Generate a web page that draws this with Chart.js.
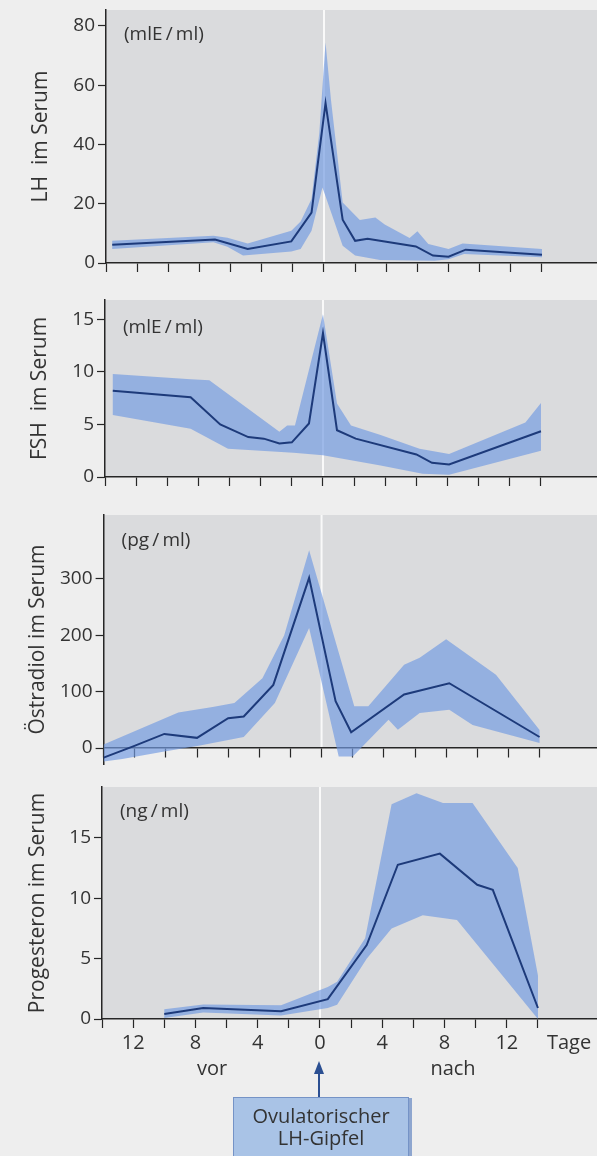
<!DOCTYPE html>
<html>
<head>
<meta charset="utf-8">
<script src="https://cdn.jsdelivr.net/npm/chart.js@4.4.1/dist/chart.umd.min.js"></script>
<style>
  body { margin: 0; width: 597px; height: 1156px; background: #eeeeee; position: relative; overflow: hidden;
         font-family: "Open Sans", sans-serif; color: #333333; }
  canvas { position: absolute; left: 0; }
  .note { position: absolute; font-size: 20px; transform: translate(-50%, -50%); white-space: nowrap; }
  #shaft { position: absolute; left: 318px; top: 1072px; width: 2px; height: 26px; background: #2b4f92; }
  #head { position: absolute; left: 314px; top: 1061px; width: 0; height: 0;
          border-left: 5px solid transparent; border-right: 5px solid transparent; border-bottom: 13px solid #2b4f92; }
  #box { position: absolute; left: 233px; top: 1097px; width: 176px; height: 70px; box-sizing: border-box;
         background: #a9c3e6; border: 1px solid #7593c6; box-shadow: 3px 1px 0 #8ea6cf;
         text-align: center; font-size: 20px; line-height: 22px; padding-top: 7px; color: #333333; }
</style>
</head>
<body>
<canvas id="lh" width="597" height="303" style="top:-10px"></canvas>
<canvas id="fsh" width="597" height="227" style="top:280px"></canvas>
<canvas id="e2" width="597" height="289" style="top:495px"></canvas>
<canvas id="prog" width="597" height="297" style="top:767px"></canvas>
<div class="note" style="left:212px;top:1067px">vor</div>
<div class="note" style="left:453px;top:1067px">nach</div>
<div id="shaft"></div><div id="head"></div>
<div id="box">Ovulatorischer<br>LH-Gipfel</div>
<script>
// Tage relativ zum LH-Gipfel
const xTicks = [-14, -12, -10, -8, -6, -4, -2, 0, 2, 4, 6, 8, 10, 12, 14];
const xTicksBottom = xTicks.concat([16]);
const xLabels = { '-12': '12', '-8': '8', '-4': '4', '0': '0', '4': '4', '8': '8', '12': '12', '16': 'Tage' };

// LH (mlE/ml)
const lhDays = [-13.6, -7.0, -4.9, -2.1, -0.8, 0.1, 1.2, 2.0, 2.8, 5.9, 7.0, 8.0, 9.1, 14.0];
const lhMean = [6.2, 7.9, 4.7, 7.3, 17, 54, 14.6, 7.5, 8.2, 5.6, 2.5, 2.1, 4.5, 2.8];
const lhUpDays = [-13.6, -7.1, -6.2, -4.9, -2.1, -1.5, -0.8, -0.3, 0.1, 0.45, 1.2, 2.3, 3.3, 3.9, 5.5, 6.0, 6.7, 8.0, 8.9, 14.0];
const lhUp = [7.5, 9.2, 8.5, 6.6, 10.9, 14, 21.6, 44, 74.4, 55, 20.4, 14.5, 15.4, 13, 8.4, 10.7, 6.4, 4.7, 6.6, 4.7];
const lhLowDays = [-13.6, -7.1, -6.2, -5.2, -2.1, -1.5, -0.8, -0.1, 0.2, 1.2, 2.0, 3.6, 7.1, 8.0, 9.0, 14.0];
const lhLow = [4.7, 7.0, 5.5, 2.5, 3.9, 4.7, 10.9, 25.5, 21, 5.8, 2.5, 1.0, 0.8, 1.3, 3.0, 1.9];
const lhTicks = [0, 20, 40, 60, 80];

// FSH (mlE/ml)
const fshDays = [-13.5, -8.5, -6.6, -4.8, -3.8, -2.8, -2.0, -0.9, 0, 0.9, 2.1, 6.0, 7.0, 8.1, 14.0];
const fshMean = [8.2, 7.6, 5.0, 3.8, 3.65, 3.2, 3.3, 5.1, 13.7, 4.45, 3.65, 2.15, 1.35, 1.2, 4.35];
const fshUpDays = [-13.5, -8.5, -7.3, -2.8, -2.3, -1.8, 0, 0.9, 1.8, 3.7, 6.2, 8.1, 13.0, 14.0];
const fshUp = [9.8, 9.3, 9.2, 4.3, 4.9, 4.9, 15.5, 7.0, 4.9, 4.0, 2.7, 2.2, 5.2, 7.05];
const fshLowDays = [-13.5, -8.5, -6.1, -1.9, 0, 3.7, 6.4, 8.1, 14.0];
const fshLow = [5.9, 4.6, 2.7, 2.3, 2.07, 1.1, 0.32, 0.22, 2.5];
const fshTicks = [0, 5, 10, 15];

// Östradiol (pg/ml)
const e2Days = [-14, -12.1, -10.1, -8.0, -6.0, -5.0, -3.1, -0.8, 0.9, 1.9, 5.3, 8.2, 14];
const e2Mean = [-17, 3, 25, 18, 53, 56, 112, 302, 83, 28, 95, 115, 19.5];
const e2UpDays = [-14, -9.2, -7.0, -5.6, -3.8, -2.4, -0.8, 2.1, 3.0, 5.3, 6.3, 8.0, 11.2, 14];
const e2Up = [6, 63, 73, 80, 124, 200, 351, 74, 74, 148, 160, 193, 130, 32];
const e2LowDays = [-14, -12.8, -10.1, -7.9, -5.0, -3.0, -0.8, 1.1, 2.0, 4.3, 4.9, 6.3, 8.2, 9.7, 14];
const e2Low = [-24, -19.5, -6, 4, 19.5, 80, 213, -15, -15, 50, 32.5, 62, 68, 41, 9];
const e2Ticks = [0, 100, 200, 300];

// Progesteron (ng/ml)
const pDays = [-10, -7.5, -2.5, 0.5, 3.0, 5.0, 7.7, 10.1, 11.1, 14];
const pMean = [0.42, 0.91, 0.64, 1.64, 6.13, 12.78, 13.7, 11.12, 10.7, 0.91];
const pUpDays = [-10, -7.5, -2.5, 0.5, 1.1, 2.9, 4.6, 6.2, 7.9, 9.8, 12.7, 14];
const pUp = [0.8, 1.2, 1.14, 2.66, 3.08, 6.7, 17.8, 18.7, 17.9, 17.9, 12.5, 3.6];
const pLowDays = [-10, -7.5, -2.5, 0.5, 1.1, 3.0, 4.6, 6.6, 8.8, 14];
const pLow = [0.08, 0.53, 0.3, 0.91, 1.19, 5.0, 7.5, 8.6, 8.2, 0];
const pTicks = [0, 5, 10, 15];

const FONT = '"Open Sans", sans-serif';
const TEXT = '#333333';
const AXIS = '#262626';
const LINE = '#1d3a7a';
const BAND = 'rgba(115, 155, 225, 0.68)';
const PX_PER_DAY = 15.57;

// grauer Hintergrund, weiße Linie bei Tag 0, Einheit oben links
const panelDecor = {
  id: 'panelDecor',
  beforeDraw(chart, args, opts) {
    const { ctx, chartArea: a, scales: { x, y } } = chart;
    const y0 = Math.min(y.getPixelForValue(0), a.bottom);
    ctx.save();
    ctx.fillStyle = '#dadbdd';
    ctx.fillRect(a.left, a.top, a.right - a.left, y0 - a.top);
    const xz = x.getPixelForValue(0);
    ctx.strokeStyle = '#f9f9f9';
    ctx.lineWidth = 2;
    ctx.beginPath();
    ctx.moveTo(xz, a.top);
    ctx.lineTo(xz, y0);
    ctx.stroke();
    ctx.fillStyle = TEXT;
    ctx.font = '19px ' + FONT;
    ctx.textBaseline = 'middle';
    ctx.fillText(opts.unit, a.left + 18, a.top + opts.unitDy);
    ctx.restore();
  }
};

function toPoints(days, vals) {
  return days.map((d, i) => ({ x: d, y: vals[i] }));
}

function makePanel(id, p) {
  const band = toPoints(p.upDays, p.up).concat(toPoints(p.lowDays, p.low).reverse());
  new Chart(document.getElementById(id), {
    type: 'scatter',
    data: {
      datasets: [
        { data: toPoints(p.days, p.mean), showLine: true, borderColor: LINE, borderWidth: 2, pointRadius: 0, fill: false },
        { data: band, showLine: true, borderWidth: 0, borderColor: 'rgba(0,0,0,0)', backgroundColor: BAND, pointRadius: 0, fill: 'shape' }
      ]
    },
    options: {
      responsive: false,
      animation: false,
      events: [],
      layout: { padding: { top: 20, right: 0, bottom: p.padBottom, left: 0 } },
      plugins: {
        legend: { display: false },
        tooltip: { enabled: false },
        panelDecor: { unit: p.unit, unitDy: p.unitDy }
      },
      scales: {
        x: {
          type: 'linear',
          position: p.axisAtZero ? { y: 0 } : 'bottom',
          min: -14,
          max: -14 + (597 - p.left) / PX_PER_DAY,
          z: 1,
          afterBuildTicks: s => { s.ticks = (p.labels ? xTicksBottom : xTicks).map(v => ({ value: v })); },
          afterFit: s => { if (!p.axisAtZero) s.height = p.xHeight; },
          grid: {
            drawOnChartArea: false, tickLength: 9, tickWidth: 1.2,
            tickColor: c => (c.tick && c.tick.value > 14) ? 'rgba(0,0,0,0)' : AXIS
          },
          border: { color: AXIS, width: 1.5 },
          ticks: {
            autoSkip: false, maxRotation: 0, padding: 3, color: TEXT,
            font: { family: FONT, size: 20 },
            callback: v => p.labels ? (xLabels[v] || '') : ''
          }
        },
        y: {
          min: p.yMin,
          max: p.yMax,
          z: 1,
          afterBuildTicks: s => { s.ticks = p.yTicks.map(v => ({ value: v })); },
          afterFit: s => { s.width = p.left; },
          grid: { drawOnChartArea: false, tickLength: 8, tickWidth: 1.2, tickColor: AXIS },
          border: { color: AXIS, width: 1.5 },
          ticks: { padding: 3, color: TEXT, font: { family: FONT, size: 19 } },
          title: {
            display: true, text: p.title, color: TEXT,
            font: { family: FONT, size: 21 }, padding: { top: p.titlePad, bottom: 0 }
          }
        }
      }
    },
    plugins: [panelDecor]
  });
}

makePanel('lh', {
  days: lhDays, mean: lhMean, upDays: lhUpDays, up: lhUp, lowDays: lhLowDays, low: lhLow,
  yMin: 0, yMax: 85.4, yTicks: lhTicks, left: 106, xHeight: 30, padBottom: 0,
  title: 'LH  im Serum', titlePad: 28, unit: '(mlE\u2009/\u2009ml)', unitDy: 25
});
makePanel('fsh', {
  days: fshDays, mean: fshMean, upDays: fshUpDays, up: fshUp, lowDays: fshLowDays, low: fshLow,
  yMin: 0, yMax: 16.85, yTicks: fshTicks, left: 105, xHeight: 30, padBottom: 0,
  title: 'FSH  im Serum', titlePad: 27, unit: '(mlE\u2009/\u2009ml)', unitDy: 28
});
makePanel('e2', {
  days: e2Days, mean: e2Mean, upDays: e2UpDays, up: e2Up, lowDays: e2LowDays, low: e2Low,
  yMin: -28.4, yMax: 413.6, yTicks: e2Ticks, left: 103.6, axisAtZero: true, padBottom: 20,
  title: 'Östradiol im Serum', titlePad: 25, unit: '(pg\u2009/\u2009ml)', unitDy: 26
});
makePanel('prog', {
  days: pDays, mean: pMean, upDays: pUpDays, up: pUp, lowDays: pLowDays, low: pLow,
  yMin: 0, yMax: 19.22, yTicks: pTicks, left: 102, xHeight: 45, padBottom: 0, labels: true,
  title: 'Progesteron im Serum', titlePad: 25, unit: '(ng\u2009/\u2009ml)', unitDy: 25
});
</script>
</body>
</html>
